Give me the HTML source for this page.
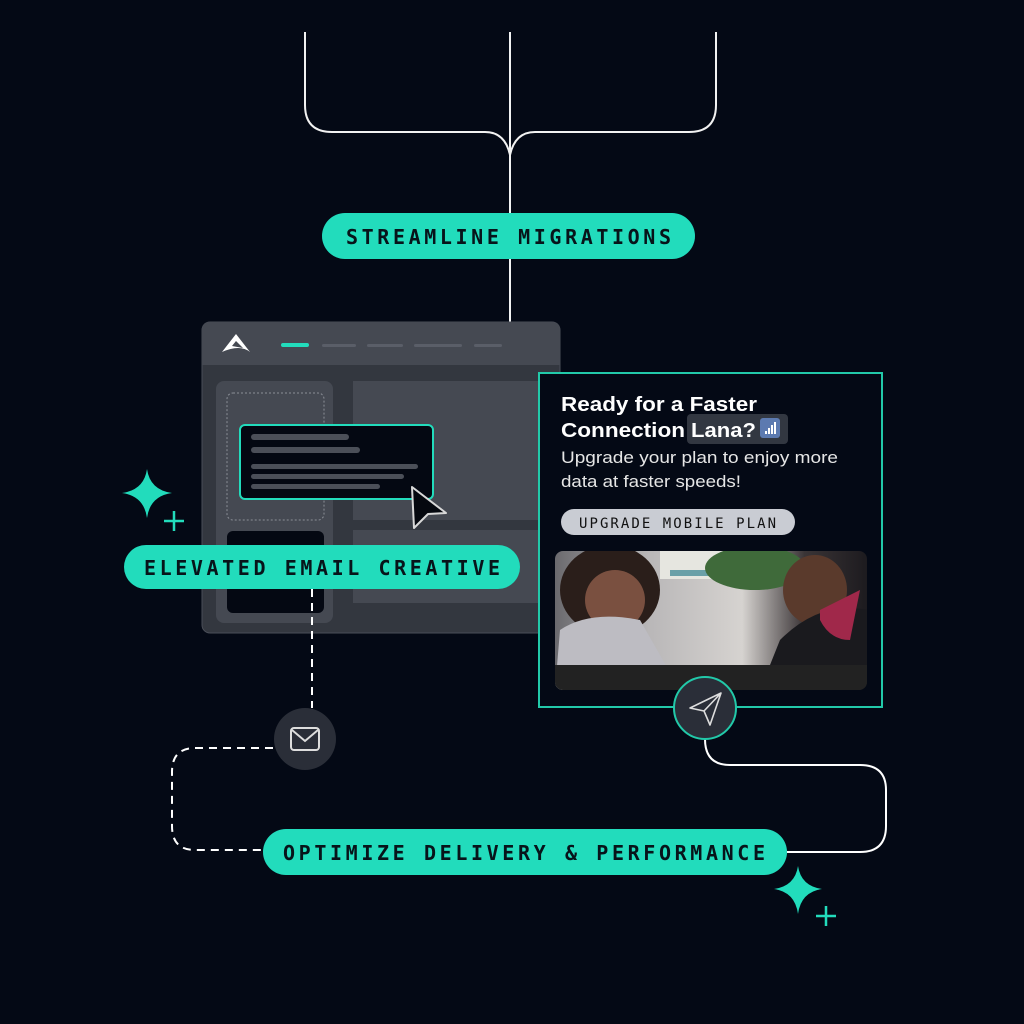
<!DOCTYPE html>
<html><head><meta charset="utf-8"><style>
html,body{margin:0;padding:0;background:#040915;}
svg{display:block}
.mono{font-family:"DejaVu Sans Mono","Liberation Mono",monospace;font-weight:bold;}
.sans{font-family:"Liberation Sans",sans-serif;}
</style></head><body>
<svg width="1024" height="1024" viewBox="0 0 1024 1024" xmlns="http://www.w3.org/2000/svg">
<defs>
<linearGradient id="ph" x1="0" y1="0" x2="1" y2="0"><stop offset="0" stop-color="#6b6a6e"/><stop offset="0.3" stop-color="#b9b7b8"/><stop offset="0.6" stop-color="#d6d3d0"/><stop offset="0.8" stop-color="#3a3436"/><stop offset="1" stop-color="#1d1b1f"/></linearGradient>
<clipPath id="pc"><rect x="555" y="551" width="312" height="139" rx="8"/></clipPath>
</defs>
<rect width="1024" height="1024" fill="#040915"/>
<path d="M305 32 V105 Q305 132 332 132 H485 Q505 132 510 155 M716 32 V105 Q716 132 689 132 H535 Q515 132 510 155" fill="none" stroke="#f2f2f2" stroke-width="2"/>
<line x1="510" y1="32" x2="510" y2="322" stroke="#f2f2f2" stroke-width="2"/>
<rect x="322" y="213" width="373" height="46" rx="23" fill="#22dcbc"/>
<text x="346" y="244" class="mono" font-size="20" textLength="325" lengthAdjust="spacing" fill="#07141a">STREAMLINE MIGRATIONS</text>
<rect x="202" y="322" width="358" height="311" rx="8" fill="#33373f" stroke="#4a4e58"/>
<path d="M202 330 Q202 322 210 322 H552 Q560 322 560 330 V365 H202Z" fill="#454952"/>
<path d="M222 352 L236 334 L250 352 Q240 344 222 352Z" fill="#fff"/>
<path d="M236 341 L243 348 L232 346Z" fill="#454952"/>
<rect x="281" y="343" width="28" height="4" rx="2" fill="#22dcbc"/>
<rect x="322" y="344" width="34" height="3" rx="1.5" fill="#5a5e68"/>
<rect x="367" y="344" width="36" height="3" rx="1.5" fill="#5a5e68"/>
<rect x="414" y="344" width="48" height="3" rx="1.5" fill="#5a5e68"/>
<rect x="474" y="344" width="28" height="3" rx="1.5" fill="#5a5e68"/>
<rect x="216" y="381" width="117" height="242" rx="8" fill="#454952"/>
<rect x="227" y="393" width="97" height="127" rx="6" fill="none" stroke="#8a8e96" stroke-dasharray="2 2"/>
<rect x="227" y="531" width="97" height="82" rx="6" fill="#040812"/>
<rect x="353" y="381" width="207" height="139" fill="#454952"/>
<rect x="353" y="530" width="207" height="73" fill="#454952"/>
<rect x="240" y="425" width="193" height="74" rx="5" fill="#040812" stroke="#22dcbc" stroke-width="2"/>
<rect x="251" y="434" width="98" height="6" rx="3" fill="#4b4f58"/>
<rect x="251" y="447" width="109" height="6" rx="3" fill="#4b4f58"/>
<rect x="251" y="464" width="167" height="5" rx="2.5" fill="#4b4f58"/>
<rect x="251" y="474" width="153" height="5" rx="2.5" fill="#4b4f58"/>
<rect x="251" y="484" width="129" height="5" rx="2.5" fill="#4b4f58"/>
<path d="M412 487 L446 513 L428 514 L414 528Z" fill="#05080f" stroke="#d8d8d8" stroke-width="2" stroke-linejoin="round"/>
<rect x="539" y="373" width="343" height="334" fill="#040915" stroke="#22c9a9" stroke-width="2"/>
<text x="561" y="411" class="sans" font-size="20" font-weight="bold" fill="#fff" textLength="196" lengthAdjust="spacingAndGlyphs">Ready for a Faster</text>
<rect x="687" y="414" width="101" height="30" rx="4" fill="#323741"/>
<text x="561" y="437" class="sans" font-size="20" font-weight="bold" fill="#fff" textLength="124" lengthAdjust="spacingAndGlyphs">Connection</text>
<text x="691" y="437" class="sans" font-size="20" font-weight="bold" fill="#fff" textLength="65" lengthAdjust="spacingAndGlyphs">Lana?</text>
<rect x="760" y="418" width="20" height="20" rx="3" fill="#5c7ab0"/>
<rect x="765" y="431" width="2" height="3" fill="#fff"/><rect x="768" y="428" width="2" height="6" fill="#fff"/><rect x="771" y="425" width="2" height="9" fill="#fff"/><rect x="774" y="422" width="2" height="12" fill="#fff"/>
<text x="561" y="463" class="sans" font-size="17" fill="#e6e6e6" textLength="277" lengthAdjust="spacingAndGlyphs">Upgrade your plan to enjoy more</text>
<text x="561" y="487" class="sans" font-size="17" fill="#e6e6e6" textLength="180" lengthAdjust="spacingAndGlyphs">data at faster speeds!</text>
<rect x="561" y="509" width="234" height="26" rx="13" fill="#c9ccd3"/>
<text x="579" y="528" font-family="DejaVu Sans Mono, monospace" font-size="14" textLength="197" lengthAdjust="spacing" fill="#111">UPGRADE MOBILE PLAN</text>
<g clip-path="url(#pc)">
<rect x="555" y="551" width="312" height="139" fill="url(#ph)"/>
<rect x="660" y="551" width="80" height="28" fill="#e6e6e0"/>
<rect x="670" y="570" width="70" height="6" fill="#6aa0a8"/>
<ellipse cx="755" cy="568" rx="50" ry="22" fill="#3f6a3a"/>
<ellipse cx="610" cy="590" rx="50" ry="45" fill="#2a1e1a"/>
<ellipse cx="615" cy="600" rx="30" ry="30" fill="#7a5040"/>
<path d="M560 630 Q590 610 640 620 L680 690 H555Z" fill="#bdbcc2"/>
<ellipse cx="815" cy="590" rx="32" ry="35" fill="#5a3a2c"/>
<path d="M780 640 Q820 600 867 610 V690 H760Z" fill="#1a1a1e"/>
<path d="M820 610 Q840 600 860 590 L850 640 Q830 640 820 620Z" fill="#a0284a"/>
<rect x="555" y="665" width="312" height="25" fill="#222"/>
</g>
<path d="M312 589 V708" stroke="#fff" stroke-width="2" stroke-dasharray="8 6" fill="none"/>
<path d="M273 748 H195 Q172 748 172 772 V826 Q172 850 195 850 H265" stroke="#fff" stroke-width="2" stroke-dasharray="8 6" fill="none"/>
<path d="M705 739 Q705 765 730 765 H860 Q886 765 886 790 V826 Q886 852 860 852 H787" stroke="#fff" stroke-width="2" fill="none"/>
<circle cx="305" cy="739" r="31" fill="#2a2e38"/>
<rect x="291" y="728" width="28" height="22" rx="3" fill="none" stroke="#ddd" stroke-width="2"/>
<path d="M292 730 L305 741 L318 730" fill="none" stroke="#ddd" stroke-width="2"/>
<circle cx="705" cy="708" r="31" fill="#2a2e38" stroke="#22c9a9" stroke-width="2"/>
<path d="M721 693 L690 708 L704 711 L710 725Z M704 711 L721 693" fill="none" stroke="#ddd" stroke-width="1.6" stroke-linejoin="round"/>
<rect x="124" y="545" width="396" height="44" rx="22" fill="#22dcbc"/>
<text x="144" y="575" class="mono" font-size="20" textLength="356" lengthAdjust="spacing" fill="#07141a">ELEVATED EMAIL CREATIVE</text>
<rect x="263" y="829" width="524" height="46" rx="23" fill="#22dcbc"/>
<text x="283" y="860" class="mono" font-size="20" textLength="482" lengthAdjust="spacing" fill="#07141a">OPTIMIZE DELIVERY &amp; PERFORMANCE</text>
<path d="M147 469 Q150 490 172 493 Q150 496 147 518 Q144 496 122 493 Q144 490 147 469Z" fill="#22dcbc"/>
<path d="M174 511 V531 M164 521 H184" stroke="#22dcbc" stroke-width="2.5"/>
<path d="M798 866 Q801 886 822 889 Q801 892 798 914 Q795 892 774 889 Q795 886 798 866Z" fill="#22dcbc"/>
<path d="M826 906 V926 M816 916 H836" stroke="#22dcbc" stroke-width="2.5"/>
</svg>
</body></html>
